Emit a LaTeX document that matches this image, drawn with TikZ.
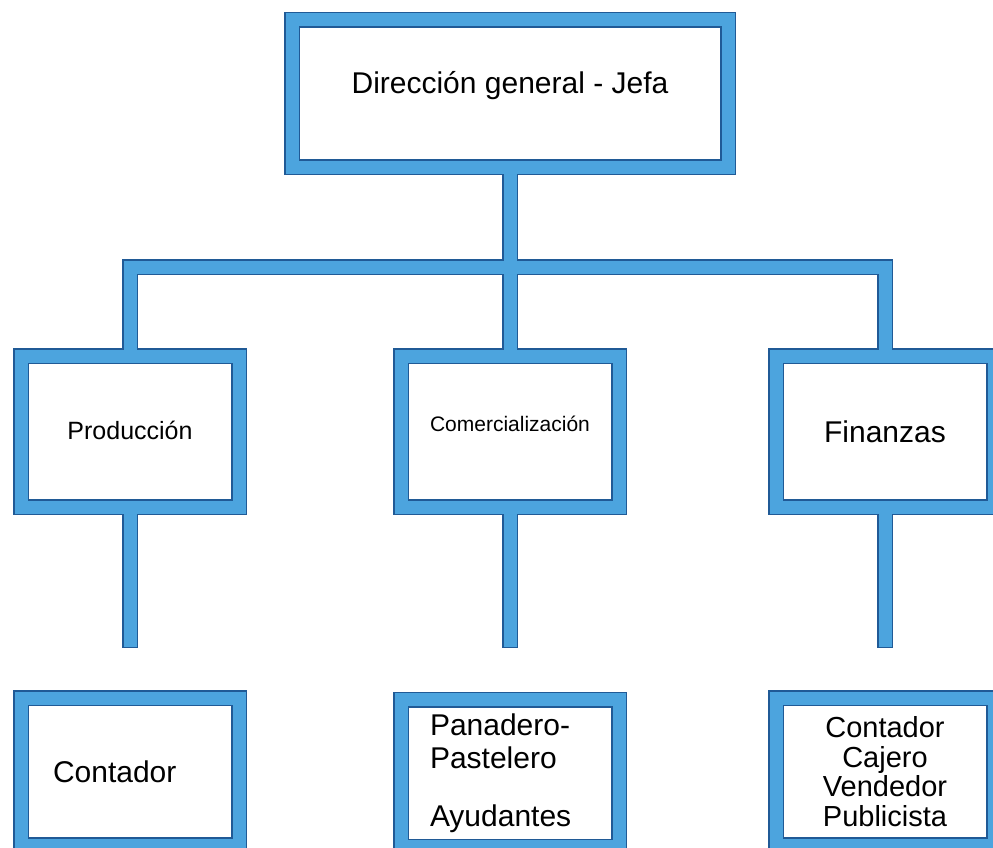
\documentclass[tikz,border=0pt]{standalone}
\usepackage{fontspec}
\setmainfont{Liberation Sans}
\definecolor{azul}{RGB}{76,164,222}
\definecolor{borde}{RGB}{32,90,150}
\begin{document}
\begin{tikzpicture}[x = 1pt, y = -1pt,
		caja/.style = {minimum width = 218pt, minimum height = 151pt, inner sep = 0pt, outer sep = 0pt},
		bajo/.style = {caja, minimum height = 147pt},
		rama/.style = {draw = borde, line width = 1.5pt, double = azul, double distance = 13pt, line cap = rect}]
	\useasboundingbox (0, 0) rectangle (993, 848);
	\node[caja, minimum width = 436pt, minimum height = 147pt, font = \fontsize{30}{36}\selectfont] (dir) at (510, 93.5) {\raisebox{0pt}[0pt][0pt]{Dirección general - Jefa}};
	\node[caja, font = \fontsize{25}{30}\selectfont] (prod) at (130, 431.5) {\raisebox{2pt}{Producción}};
	\node[caja, font = \fontsize{21}{25}\selectfont] (com) at (510, 431.5) {\raisebox{0pt}[0pt][0pt]{Comercialización}};
	\node[caja, font = \fontsize{30}{36}\selectfont] (fin) at (885, 431.5) {Finanzas};
	\node[bajo, font = \fontsize{30}{36}\selectfont, text width = 154pt, align = left] (cont) at (130, 771.5) {Contador};
	\node[bajo, font = \fontsize{30}{33}\selectfont, text width = 160pt, align = left] (pan) at (510, 773) {Panadero-\\Pastelero\\[25pt]Ayudantes};
	\node[bajo, font = \fontsize{29}{29.7}\selectfont, align = center] (caj) at (885, 771.5) {Contador\\Cajero\\Vendedor\\Publicista};
	\coordinate (barra) at (0, 267);
	\coordinate (pies) at (0, 640);
	\draw[rama] (dir.north west) rectangle (dir.south east)
		(prod.north west) rectangle (prod.south east)
		(com.north west) rectangle (com.south east)
		(fin.north west) rectangle (fin.south east)
		(cont.north west) rectangle (cont.south east)
		(pan.north west) rectangle (pan.south east)
		(caj.north west) rectangle (caj.south east)
		(dir.south) -- (dir.south |- barra)
		(prod.north) |- (fin.north |- barra) -- (fin.north)
		(com.north) -- (com.north |- barra)
		(prod.south) -- (prod.south |- pies)
		(com.south) -- (com.south |- pies)
		(fin.south) -- (fin.south |- pies);
\end{tikzpicture}
\end{document}
